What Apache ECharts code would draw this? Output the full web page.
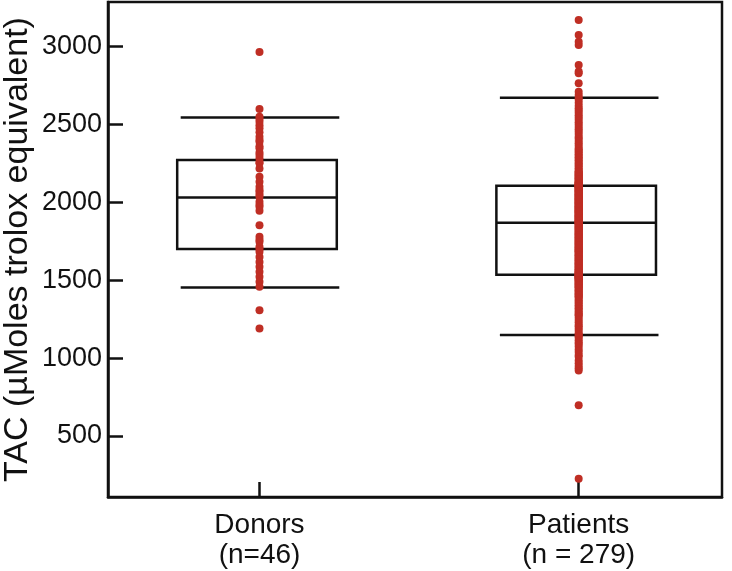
<!DOCTYPE html>
<html>
<head>
<meta charset="utf-8">
<script src="https://cdn.jsdelivr.net/npm/echarts@6/dist/echarts.min.js"></script>
<style>
html,body{margin:0;padding:0;background:#fff;}
#chart{width:732px;height:571px;}
</style>
</head>
<body>
<div id="chart"></div>
<script>
// ---- data ----
const categories = ['Donors', 'Patients'];
const categoryLabels = ['Donors\n(n=46)', 'Patients\n(n = 279)'];
const yTicks = [500, 1000, 1500, 2000, 2500, 3000];
const yAxisTitle = 'TAC (µMoles trolox equivalent)';

// [lowerCap, Q1, median, Q3, upperCap]
const donorsStats = [1454, 1700, 2031, 2272, 2546];
const patientsStats = [1149, 1535, 1869, 2107, 2672];

const donors = [
  2966, 2600, 2550, 2535, 2518, 2495, 2476, 2450, 2421, 2400,
  2389, 2360, 2347, 2320, 2304, 2283, 2260, 2251, 2218, 2165,
  2132, 2100, 2080, 2068, 2050, 2036, 2004, 1985, 1972, 1946,
  1854, 1779, 1760, 1747, 1715, 1700, 1683, 1650, 1618, 1586,
  1554, 1522, 1490, 1458, 1308, 1190
];

const patients = [
  226, 697, 920, 935, 950, 967, 985, 1008, 1020, 1040,
  1055, 1075, 1090, 1100, 1115, 1130, 1140, 1150, 1160, 1175,
  1190, 1205, 1215, 1230, 1245, 1260, 1275, 1280, 1290, 1300,
  1310, 1320, 1330, 1340, 1350, 1360, 1370, 1380, 1393, 1395,
  1400, 1410, 1415, 1420, 1430, 1435, 1440, 1450, 1455, 1460,
  1465, 1470, 1475, 1480, 1485, 1490, 1495, 1500, 1505, 1510,
  1512, 1515, 1518, 1520, 1522, 1525, 1527, 1530, 1532, 1534,
  1537, 1540, 1544, 1546, 1551, 1553, 1558, 1562, 1567, 1571,
  1576, 1583, 1588, 1592, 1598, 1603, 1609, 1612, 1618, 1624,
  1629, 1633, 1640, 1644, 1649, 1656, 1661, 1664, 1671, 1676,
  1681, 1686, 1690, 1694, 1697, 1703, 1707, 1712, 1716, 1722,
  1727, 1731, 1737, 1742, 1746, 1752, 1756, 1761, 1766, 1772,
  1776, 1781, 1787, 1791, 1796, 1802, 1806, 1811, 1817, 1822,
  1826, 1832, 1836, 1841, 1847, 1851, 1856, 1861, 1864, 1867,
  1869,
  1872, 1875, 1879, 1882, 1886, 1889, 1893, 1896, 1900, 1903,
  1907, 1911, 1914, 1918, 1921, 1925, 1929, 1932, 1936, 1940,
  1943, 1947, 1950, 1954, 1958, 1961, 1965, 1968, 1972, 1976,
  1979, 1983, 1987, 1990, 1994, 1998, 2001, 2005, 2009, 2012,
  2016, 2020, 2023, 2027, 2031, 2034, 2038, 2042, 2045, 2049,
  2053, 2056, 2060, 2064, 2067, 2071, 2075, 2078, 2082, 2086,
  2089, 2093, 2096, 2099, 2101, 2103, 2105, 2106,
  2108, 2109, 2111, 2113, 2115, 2118, 2121, 2124, 2127, 2130,
  2135, 2140, 2145, 2150, 2155, 2160, 2165, 2170, 2175, 2180,
  2185, 2190, 2195, 2200, 2210, 2220, 2230, 2240, 2250, 2260,
  2270, 2280, 2290, 2300, 2310, 2320, 2330, 2340, 2350, 2365,
  2380, 2395, 2410, 2421, 2440, 2455, 2470, 2485, 2500, 2515,
  2530, 2545, 2560, 2575, 2590, 2605, 2620, 2640, 2660, 2672,
  2690, 2711, 2765, 2830, 2840, 2882, 3011, 3032, 3075, 3171
];

// ---- chart ----
const FONT = "'Liberation Sans', Arial, Helvetica, sans-serif";
const INK = '#111';
const DOT = '#bf2e24';

const boxData = [[1].concat(donorsStats), [2].concat(patientsStats)];
const scatterData = donors.map(v => [1, v]).concat(patients.map(v => [2, v]));

const chart = echarts.init(document.getElementById('chart'), null, {renderer: 'canvas'});
chart.setOption({
  animation: false,
  backgroundColor: '#fff',
  grid: {
    left: 108, right: 10, top: 2, bottom: 74,
    containLabel: false,
    outerBoundsMode: 'none',
    show: true, borderColor: INK, borderWidth: 2.5, backgroundColor: 'transparent'
  },
  xAxis: {
    type: 'value',
    min: 0.5254, max: 2.449,
    splitLine: {show: false},
    axisLine: {show: true, onZero: false, lineStyle: {color: INK, width: 2.5}},
    axisTick: {show: true, inside: true, length: 15, lineStyle: {color: INK, width: 2.5}, customValues: [1, 2]},
    axisLabel: {
      customValues: [1, 2],
      formatter: v => categoryLabels[Math.round(v) - 1],
      color: INK, fontFamily: FONT, fontSize: 28, lineHeight: 30, margin: 13
    }
  },
  yAxis: {
    type: 'value',
    min: 108, max: 3287,
    splitLine: {show: false},
    name: yAxisTitle,
    nameLocation: 'middle',
    nameGap: 73,
    nameMoveOverlap: false,
    nameRotate: 90,
    nameTextStyle: {color: INK, fontFamily: FONT, fontSize: 34},
    axisLine: {show: true, onZero: false, lineStyle: {color: INK, width: 2.5}},
    axisTick: {show: true, inside: true, length: 15, lineStyle: {color: INK, width: 2.5}, customValues: yTicks},
    axisLabel: {customValues: yTicks, formatter: v => String(v), color: INK, fontFamily: FONT, fontSize: 27, margin: 6}
  },
  series: [
    {
      type: 'custom',
      z: 2,
      data: boxData,
      renderItem: function (params, api) {
        const x = api.value(0);
        const half = 0.25;
        const L = api.coord([x - half, 0])[0];
        const R = api.coord([x + half, 0])[0];
        const off = -2.5;
        const yLow = api.coord([x, api.value(1)])[1];
        const yQ1 = api.coord([x, api.value(2)])[1];
        const yMed = api.coord([x, api.value(3)])[1];
        const yQ3 = api.coord([x, api.value(4)])[1];
        const yHigh = api.coord([x, api.value(5)])[1];
        const st = {stroke: INK, lineWidth: 2.5, fill: null};
        return {
          type: 'group',
          children: [
            {type: 'rect', shape: {x: L + off, y: yQ3, width: R - L, height: yQ1 - yQ3}, style: {stroke: INK, lineWidth: 2.5, fill: 'transparent'}},
            {type: 'line', shape: {x1: L + off, y1: yMed, x2: R + off, y2: yMed}, style: st},
            {type: 'line', shape: {x1: L + 1, y1: yHigh, x2: R, y2: yHigh}, style: st},
            {type: 'line', shape: {x1: L + 1, y1: yLow, x2: R, y2: yLow}, style: st}
          ]
        };
      }
    },
    {
      type: 'scatter',
      z: 3,
      data: scatterData,
      symbol: 'circle',
      symbolSize: 8,
      itemStyle: {color: DOT, opacity: 1}
    }
  ]
});
</script>
</body>
</html>
